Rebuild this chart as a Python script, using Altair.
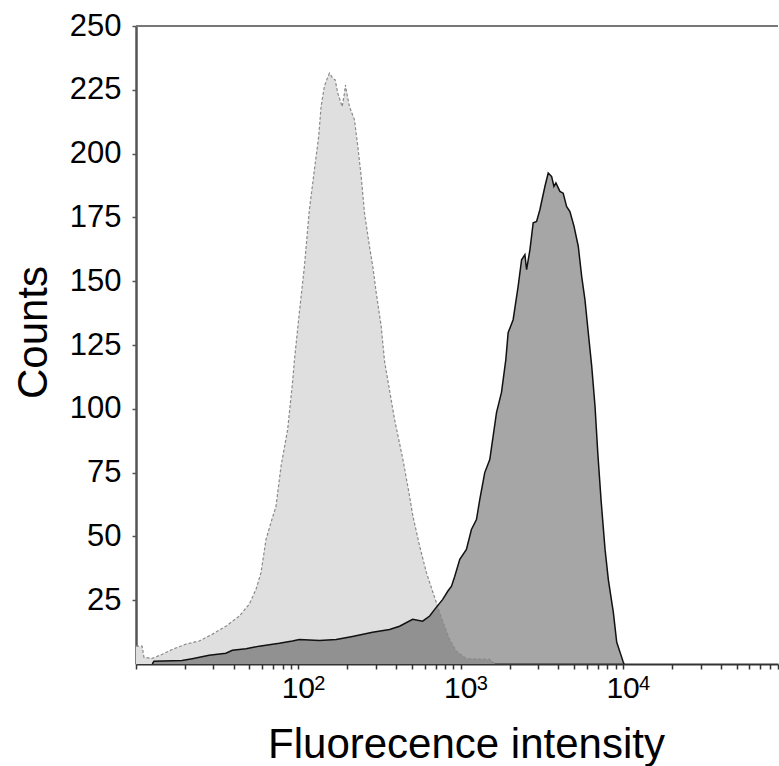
import altair as alt
import pandas as pd

# Control (light grey, dashed outline) histogram
light_x = [10, 10.9, 11.2, 12.6, 14.5, 16.7, 20.3, 24.5, 29.4, 35.8, 43.3, 49.9, 54.8, 58.9,
           63.2, 67.8, 72.8, 78.2, 85.9, 92.2, 94.4, 101.4, 108.9, 116.9, 125.5, 133.4, 138.0,
           144.6, 149.5, 155.3, 162.8, 168.6, 174.9, 186.2, 192.3, 195.0, 198.7, 206.5, 221.6,
           232.4, 243.9, 255.5, 274.2, 287.4, 301.7, 323.8, 339.6, 391.5, 440.7, 484.3, 507.8,
           558.6, 614.2, 674.8, 741.9, 796, 855, 940, 1084, 1510, 1622]
light_y = [7.0, 7.0, 2.6, 2.2, 3.8, 5.7, 7.8, 9.0, 11.6, 14.8, 18.8, 23.5, 29.2, 35.9,
           48.8, 55.4, 61.8, 77.5, 91.9, 110.8, 118.6, 137.7, 155.7, 178.0, 193.6, 206.7, 218.4,
           226.3, 228.9, 231.5, 229.6, 228.9, 223.7, 218.4, 223.7, 226.9, 223.7, 218.4, 213.2,
           202.8, 191.0, 176.8, 163.6, 155.8, 145.5, 132.3, 118.6, 95.8, 80.1, 65.7, 57.9,
           46.2, 35.9, 28.0, 20.2, 14.7, 9.6, 5.0, 2.1, 1.8, 0]

# Stained (dark grey, solid outline) histogram
dark_x = [12.6, 12.9, 19.2, 22.2, 28.2, 35.8, 39.2, 47.6, 57.4, 76.3, 91.9, 101.4, 134.9, 171.0,
          215.4, 286.3, 364.6, 420, 505.6, 582.5, 643.9, 691.2, 774.8, 832, 877.5, 919.2, 986.8,
          1084, 1164, 1250, 1310, 1406, 1510, 1661, 1783, 1896, 1959, 2103, 2258, 2371, 2485,
          2545, 2668, 2795, 2933, 3073, 3300, 3459, 3631, 3752, 3858, 4083, 4277, 4487, 4705,
          4989, 5300, 5559, 5823, 6106, 6411, 6718, 6984, 7315, 7745, 8114, 8710, 9141, 9812,
          9995, 10140]
dark_y = [0, 1.1, 1.4, 2.1, 3.4, 4.2, 5.4, 6.0, 7.0, 8.1, 9.0, 9.6, 9.2, 9.6,
          10.8, 12.4, 13.5, 14.8, 17.5, 16.8, 18.8, 21.4, 25.3, 28.5, 30.5, 34.4, 41.0,
          44.9, 52.7, 56.6, 64.4, 75.0, 80.1, 98.5, 106.4, 119.3, 129.8, 134.9, 148.0, 158.4, 160.4,
          154.5, 162.3, 172.9, 173.4, 178.0, 187.1, 192.4, 191.0, 187.1, 188.5, 185.2, 184.5, 179.3, 177.3,
          171.5, 163.6, 151.9, 142.8, 129.8, 116.6, 101.0, 82.9, 64.4, 44.9, 33.1, 20.2, 8.5, 2.6,
          1.0, 0]

x_ticks = [10, 20, 30, 40, 50, 60, 70, 80, 90,
           100, 200, 300, 400, 500, 600, 700, 800, 900,
           1000, 2000, 3000, 4000, 5000, 6000, 7000, 8000, 9000,
           10000, 20000, 30000, 40000, 50000, 60000, 70000, 80000, 90000]
y_ticks = [25, 50, 75, 100, 125, 150, 175, 200, 225, 250]

label_vals = [100, 1000, 10000]
label_base = ["10", "10", "10"]
label_exp = ["2", "3", "4"]

FONT = "Liberation Sans"
W, H = 642, 638

light = pd.DataFrame({"x": light_x, "y": light_y})
dark = pd.DataFrame({"x": dark_x, "y": dark_y})
labels = pd.DataFrame({"x": label_vals, "base": label_base, "exp": label_exp})

xscale = alt.Scale(type="log", domain=[10, 90000], nice=False)
yscale = alt.Scale(domain=[0, 250], nice=False)

xaxis = alt.Axis(values=x_ticks, labels=False, grid=False, tickSize=5, tickWidth=1.5,
                 tickColor="#333", domainColor="#333", domainWidth=2,
                 title="Fluorecence intensity", titleFont=FONT, titleFontSize=42,
                 titleFontWeight="normal", titleColor="black",
                 titleX=330, titleY=93, titleBaseline="alphabetic", titleAlign="center")
yaxis = alt.Axis(values=y_ticks, grid=False, tickSize=4, tickWidth=1.5, tickColor="#555",
                 domainColor="#555", domainWidth=2.5, labelFont=FONT, labelFontSize=31,
                 labelColor="black", labelPadding=11, labelBaseline="middle",
                 title="Counts", titleFont=FONT, titleFontSize=42, titleFontWeight="normal",
                 titleColor="black", titleX=-90, titleY=306, titleAngle=-90,
                 titleBaseline="alphabetic", titleAlign="center")

X = alt.X("x:Q", scale=xscale, axis=xaxis)
Y = alt.Y("y:Q", scale=yscale, axis=yaxis)
Xn = alt.X("x:Q", scale=xscale)
Yn = alt.Y("y:Q", scale=yscale)

light_area = alt.Chart(light).mark_area(color="#dfdfdf").encode(x=X, y=Y)
dark_area = alt.Chart(dark).mark_area(color="black", opacity=0.35).encode(x=Xn, y=Yn)
light_line = alt.Chart(light).mark_line(color="#8a8a8a", strokeWidth=1.2,
                                         strokeDash=[3, 2]).encode(x=Xn, y=Yn)
dark_line = alt.Chart(dark).mark_line(color="#111", strokeWidth=1.5).encode(x=Xn, y=Yn)

top_rule = alt.Chart(light).mark_rule(color="#777", strokeWidth=2).encode(
    x=alt.value(0), x2=alt.value(W), y=alt.value(0))

base_txt = alt.Chart(labels).mark_text(font=FONT, fontSize=30, align="center",
                                       baseline="alphabetic", color="black").encode(
    x=Xn, y=alt.value(H + 34), text="base:N")
exp_txt = alt.Chart(labels).mark_text(font=FONT, fontSize=20, align="left",
                                      baseline="alphabetic", dx=16, color="black").encode(
    x=Xn, y=alt.value(H + 26), text="exp:N")

chart = alt.layer(light_area, dark_area, light_line, dark_line, top_rule, base_txt, exp_txt).properties(
    width=W, height=H,
    autosize=alt.AutoSizeParams(type="none"),
    padding={"left": 136, "top": 26, "right": 1, "bottom": 102},
    background="white",
).configure_view(stroke=None)

chart.save("out.html", embed_options={"renderer": "svg", "actions": False})
